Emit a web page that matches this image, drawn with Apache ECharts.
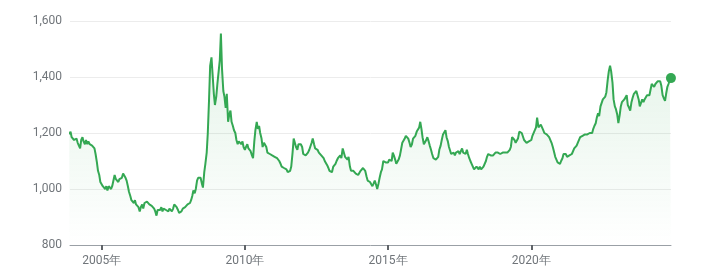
<!DOCTYPE html>
<html>
<head>
<meta charset="utf-8">
<script src="https://cdn.jsdelivr.net/npm/echarts@6/dist/echarts.min.js"></script>
<style>
html,body{margin:0;padding:0;background:#fff;}
#chart{width:703px;height:277px;}
</style>
</head>
<body>
<div id="chart"></div>
<script>
// Semi-monthly values (1st and 15th of each month)
const v2003 = [1195, 1205, 1185]; // starts Nov 15
const v2004 = [1185,1175,1170,1180,1165,1170,1145,1175,1185,1170,1160,1175,1160,1170,1160,1165,1155,1150,1145,1125,1095,1065,1050,1025];
const v2005 = [1030,1010,1005,1000,1010,995,1010,1005,1000,1010,1015,1050,1035,1040,1025,1035,1030,1040,1055,1050,1040,1030,1010,990];
const v2006 = [975,960,965,950,960,945,950,935,920,935,945,930,950,945,955,950,945,950,940,945,930,920,905,925];
const v2007 = [930,925,935,920,930,935,925,930,920,930,925,920,930,945,940,935,925,915,910,920,930,925,935,940];
const v2008 = [945,940,950,960,975,995,985,1000,1030,1040,1035,1040,1020,1005,1060,1090,1130,1200,1320,1440,1470,1410,1340,1300];
const v2009 = [1330,1375,1380,1460,1555,1430,1350,1330,1290,1340,1240,1265,1280,1240,1225,1210,1200,1175,1160,1170,1175,1160,1170,1150];
const v2010 = [1140,1150,1160,1145,1150,1135,1120,1110,1170,1210,1240,1215,1225,1200,1180,1150,1165,1160,1150,1130,1135,1125,1130,1120];
const v2011 = [1120,1115,1120,1110,1115,1100,1090,1080,1085,1075,1080,1070,1060,1055,1065,1080,1130,1180,1185,1150,1140,1160,1155,1160];
const v2012 = [1150,1125,1130,1120,1125,1130,1140,1135,1165,1180,1160,1145,1150,1140,1130,1130,1120,1115,1110,1100,1095,1085,1075,1065];
const v2013 = [1065,1060,1080,1075,1090,1100,1110,1105,1120,1110,1145,1140,1115,1120,1105,1115,1080,1065,1060,1065,1060,1055,1060,1050];
const v2014 = [1055,1065,1070,1075,1070,1065,1045,1030,1035,1025,1020,1010,1020,1030,1015,1000,1020,1040,1060,1070,1100,1105,1095,1090];
const v2015 = [1095,1105,1110,1100,1130,1120,1105,1090,1090,1105,1120,1125,1165,1170,1180,1190,1195,1180,1165,1150,1160,1180,1175,1190];
const v2016 = [1205,1210,1220,1240,1215,1185,1160,1160,1175,1185,1170,1155,1140,1125,1110,1115,1105,1110,1115,1140,1155,1175,1195,1200];
const v2017 = [1210,1185,1170,1150,1145,1125,1120,1130,1120,1130,1125,1135,1125,1130,1145,1130,1135,1125,1140,1125,1110,1100,1090,1085];
const v2018 = [1070,1065,1080,1075,1070,1080,1070,1075,1080,1085,1100,1115,1125,1130,1120,1125,1120,1125,1130,1135,1130,1125,1125,1130];
const v2019 = [1130,1125,1130,1125,1130,1135,1140,1150,1185,1190,1175,1165,1160,1180,1205,1210,1200,1195,1175,1180,1165,1160,1170,1165];
const v2020 = [1175,1190,1195,1210,1220,1255,1220,1225,1230,1235,1210,1200,1200,1195,1190,1185,1180,1165,1150,1135,1115,1110,1095,1090];
const v2021 = [1090,1100,1110,1125,1130,1125,1115,1110,1120,1115,1125,1130,1145,1150,1155,1165,1170,1185,1180,1190,1185,1195,1190,1195];
const v2022 = [1195,1200,1205,1200,1215,1225,1235,1255,1270,1260,1295,1300,1320,1315,1330,1345,1390,1420,1440,1420,1380,1320,1295,1285];
const v2023 = [1265,1235,1265,1295,1310,1305,1320,1315,1335,1300,1290,1280,1310,1325,1340,1345,1350,1355,1320,1295,1300,1320,1310,1320];
const v2024 = [1315,1335,1330,1335,1340,1375,1370,1365,1375,1370,1385,1380,1385,1370,1335,1325,1315,1340,1365,1375,1390,1396];

const yearBlocks = [
  [2003, 21, v2003],[2004, 0, v2004],[2005, 0, v2005],[2006, 0, v2006],[2007, 0, v2007],
  [2008, 0, v2008],[2009, 0, v2009],[2010, 0, v2010],[2011, 0, v2011],[2012, 0, v2012],
  [2013, 0, v2013],[2014, 0, v2014],[2015, 0, v2015],[2016, 0, v2016],[2017, 0, v2017],
  [2018, 0, v2018],[2019, 0, v2019],[2020, 0, v2020],[2021, 0, v2021],[2022, 0, v2022],
  [2023, 0, v2023],[2024, 0, v2024]
];
const tickYears = [2005, 2010, 2015, 2020];
const yTicks = [800, 1000, 1200, 1400, 1600];

const data = [];
yearBlocks.forEach(([y, start, arr]) => {
  arr.forEach((v, i) => {
    const k = start + i;
    const t = new Date(y, Math.floor(k / 2), (k % 2) ? 15 : 1).getTime();
    data.push([t, v]);
  });
});
const last = data[data.length - 1];
const tickTimes = tickYears.map(y => new Date(y, 0, 1).getTime());

const chart = echarts.init(document.getElementById('chart'));
const labelColor = '#70757a';
const font = 'Roboto, Arial, sans-serif';
chart.setOption({
  animation: false,
  grid: { left: 70, right: 32, top: 21, bottom: 32 },
  xAxis: {
    type: 'value',
    min: new Date(2003, 10, 24).getTime(),
    max: new Date(2024, 10, 16).getTime(),
    axisLine: { show: true, lineStyle: { color: '#9aa0a6', width: 1 } },
    axisTick: {
      show: true, length: 5,
      lineStyle: { color: '#5f6368', width: 2 },
      customValues: tickTimes
    },
    axisLabel: {
      color: labelColor, fontSize: 12, fontFamily: font, margin: 10,
      customValues: tickTimes,
      formatter: (val) => new Date(val).getFullYear() + '年'
    },
    splitLine: { show: false }
  },
  yAxis: {
    type: 'value',
    min: yTicks[0], max: yTicks[yTicks.length - 1], interval: 200,
    axisLine: { show: false },
    axisTick: { show: false },
    axisLabel: {
      color: labelColor, fontSize: 12, fontFamily: font, margin: 8,
      formatter: (v) => v.toLocaleString('en-US')
    },
    splitLine: { lineStyle: { color: '#ececec', width: 1 } }
  },
  series: [
    {
      type: 'line',
      data: data,
      showSymbol: false,
      symbol: 'none',
      lineStyle: { color: '#34a853', width: 2 },
      itemStyle: { color: '#34a853' },
      areaStyle: {
        color: new echarts.graphic.LinearGradient(0, 0, 0, 1, [
          { offset: 0, color: 'rgba(52,168,83,0.20)' },
          { offset: 1, color: 'rgba(52,168,83,0.0)' }
        ])
      },
      z: 2
    },
    {
      type: 'scatter',
      data: [last],
      symbol: 'circle',
      symbolSize: 10,
      itemStyle: { color: '#34a853', opacity: 1 },
      z: 3
    }
  ]
});
</script>
</body>
</html>
